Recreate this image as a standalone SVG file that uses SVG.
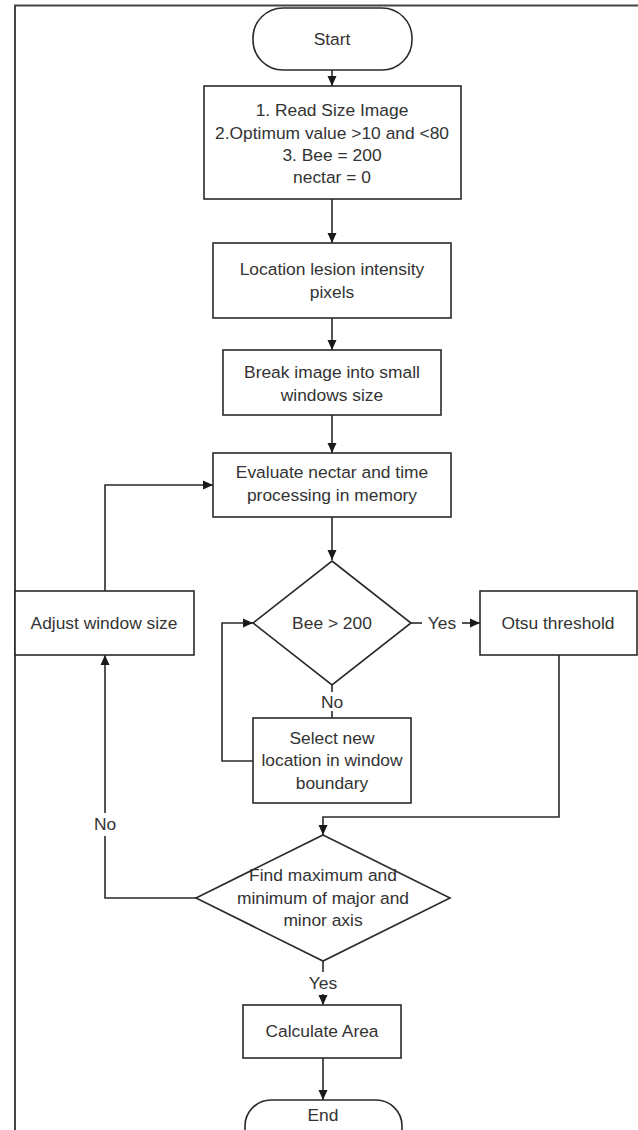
<svg xmlns="http://www.w3.org/2000/svg" width="638" height="1130" viewBox="0 0 638 1130">
<defs>
<marker id="arr" markerUnits="userSpaceOnUse" markerWidth="10" markerHeight="10" refX="10" refY="5" orient="auto">
<path d="M0,0.5 L10,5 L0,9.5 z" fill="#1a1a1a"/>
</marker>
<style>
.box{fill:#fff;stroke:#2a2a2a;stroke-width:1.6}
.ln{fill:none;stroke:#2a2a2a;stroke-width:1.6}
.ar{fill:none;stroke:#2a2a2a;stroke-width:1.6;marker-end:url(#arr)}
.frame{fill:none;stroke:#444;stroke-width:2}
text{font-family:"Liberation Sans",Arial,sans-serif;font-size:17.4px;fill:#333;text-anchor:middle;dominant-baseline:central}
</style>
</defs>
<rect width="638" height="1130" fill="#fff"/>
<g id="frame">
<path class="frame" d="M15,1130 L15,5.5 L638,5.5"/>
</g>
<g id="connectors">
<path class="ar" d="M332,70 L332,86"/>
<path class="ar" d="M332,199 L332,243"/>
<path class="ar" d="M332,318 L332,350"/>
<path class="ar" d="M332,415 L332,453"/>
<path class="ar" d="M332,517 L332,560"/>
<path class="ln" d="M411,623 L422,623"/>
<path class="ar" d="M462,623 L480,623"/>
<path class="ln" d="M332,685 L332,692"/>
<path class="ln" d="M332,711 L332,718"/>
<path class="ar" d="M253,761 L222,761 L222,623 L253,623"/>
<path class="ar" d="M559,655 L559,817 L323,817 L323,835"/>
<path class="ln" d="M196,898 L105,898 L105,836"/>
<path class="ar" d="M105,813 L105,655"/>
<path class="ar" d="M105,591 L105,485 L213,485"/>
<path class="ln" d="M323,961 L323,972"/>
<path class="ar" d="M323,994 L323,1005"/>
<path class="ar" d="M323,1058 L323,1100"/>
</g>
<g id="start">
<rect class="box" x="253" y="8" width="159" height="62" rx="30" ry="30"/>
<text x="332" y="39">Start</text>
</g>
<g id="init">
<rect class="box" x="204" y="86" width="257" height="113"/>
<text x="332" y="110">1. Read Size Image</text>
<text x="332" y="133">2.Optimum value &gt;10 and &lt;80</text>
<text x="332" y="155">3. Bee = 200</text>
<text x="332" y="177">nectar = 0</text>
</g>
<g id="location">
<rect class="box" x="213" y="243" width="238" height="75"/>
<text x="332" y="269">Location lesion intensity</text>
<text x="332" y="292">pixels</text>
</g>
<g id="break">
<rect class="box" x="223" y="350" width="218" height="65"/>
<text x="332" y="372">Break image into small</text>
<text x="332" y="395">windows size</text>
</g>
<g id="evaluate">
<rect class="box" x="213" y="453" width="238" height="64"/>
<text x="332" y="472">Evaluate nectar and time</text>
<text x="332" y="495">processing in memory</text>
</g>
<g id="bee">
<polygon class="box" points="332,561 411,623 332,685 253,623"/>
<text x="332" y="623">Bee &gt; 200</text>
</g>
<g id="yes1"><text x="442" y="623">Yes</text></g>
<g id="no1"><text x="332" y="702">No</text></g>
<g id="otsu">
<rect class="box" x="480" y="591" width="157" height="64"/>
<text x="558" y="623">Otsu threshold</text>
</g>
<g id="adjust">
<rect class="box" x="15" y="591" width="179" height="64"/>
<text x="104" y="623">Adjust window size</text>
</g>
<g id="select">
<rect class="box" x="253" y="718" width="158" height="85"/>
<text x="332" y="738">Select new</text>
<text x="332" y="760">location in window</text>
<text x="332" y="783">boundary</text>
</g>
<g id="find">
<polygon class="box" points="323,835 450,898 323,961 196,898"/>
<text x="323" y="875">Find maximum and</text>
<text x="323" y="898">minimum of major and</text>
<text x="323" y="920">minor axis</text>
</g>
<g id="no2"><text x="105" y="824">No</text></g>
<g id="yes2"><text x="323" y="983">Yes</text></g>
<g id="calc">
<rect class="box" x="243" y="1005" width="158" height="53"/>
<text x="322" y="1031">Calculate Area</text>
</g>
<g id="end">
<rect class="box" x="245" y="1100" width="157" height="60" rx="26" ry="26"/>
<text x="323" y="1115">End</text>
</g>
</svg>
